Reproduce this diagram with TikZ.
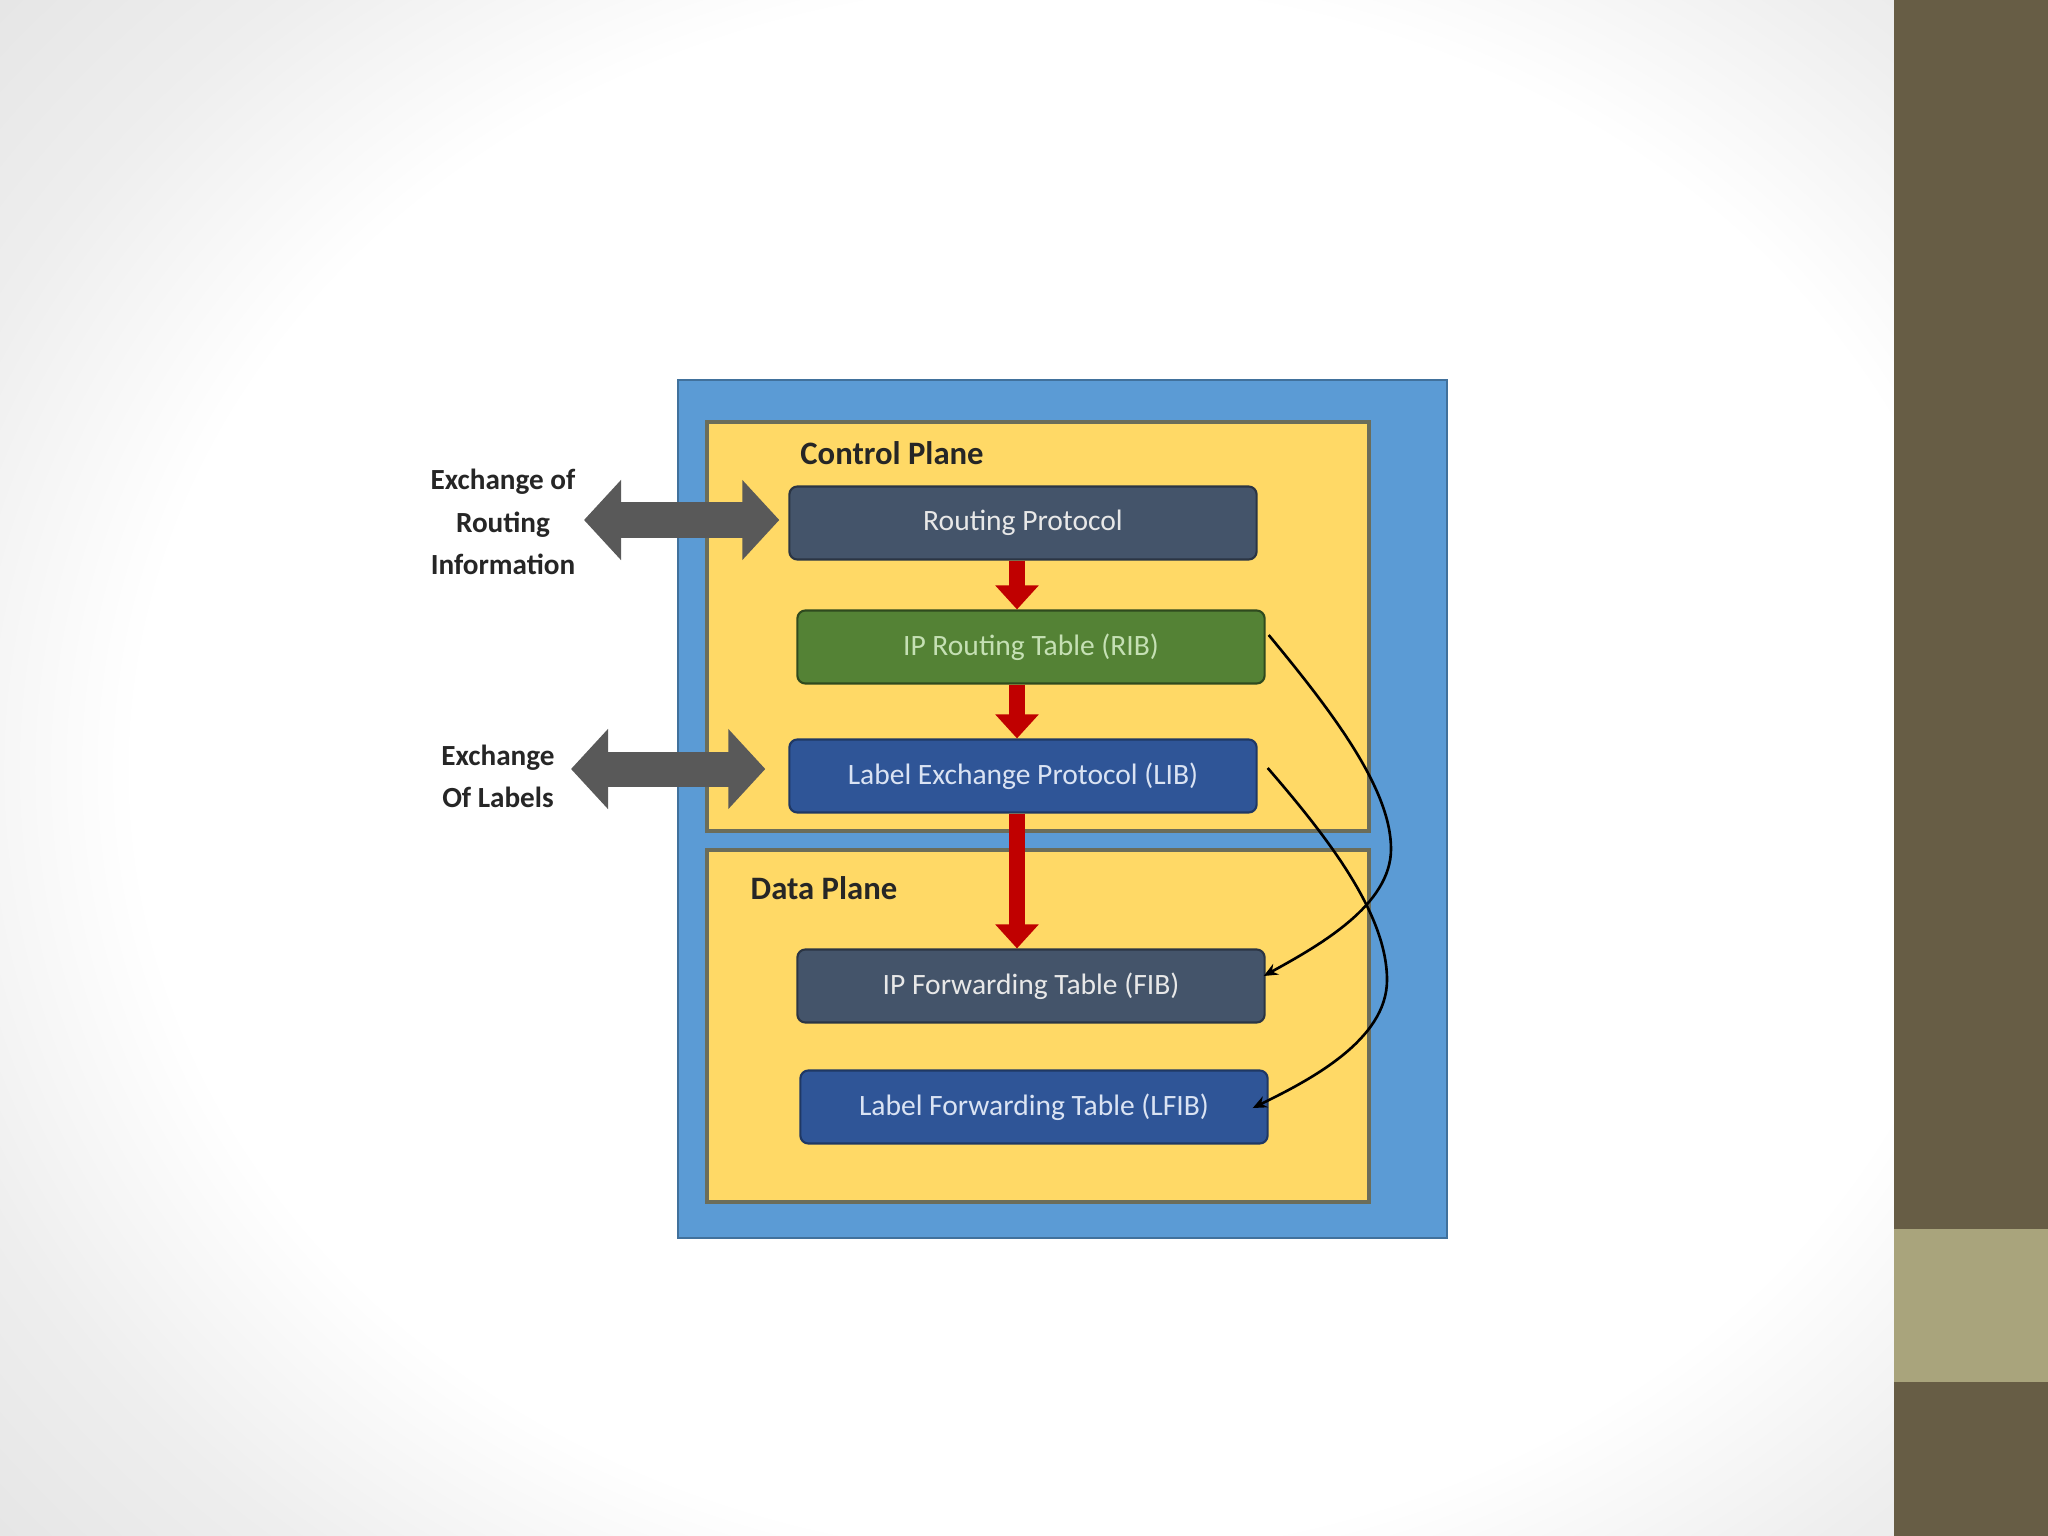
\documentclass[tikz,border=0pt]{standalone}
\usepackage{fontspec}
\setmainfont{Carlito}
\usetikzlibrary{arrows.meta,calc}
\definecolor{bggray}{HTML}{EEEEEE}
\definecolor{bggray2}{HTML}{E2E2E2}
\definecolor{bardark}{HTML}{675D45}
\definecolor{barlight}{HTML}{A9A47C}
\definecolor{outerblue}{HTML}{5B9BD5}
\definecolor{outerblueb}{HTML}{41719C}
\definecolor{panelyel}{HTML}{FFD966}
\definecolor{panelb}{HTML}{6B6D5A}
\definecolor{slate}{HTML}{44546A}
\definecolor{slateb}{HTML}{2B3544}
\definecolor{ribgreen}{HTML}{548235}
\definecolor{ribgreenb}{HTML}{2F4A1E}
\definecolor{ribtext}{HTML}{C5E0B4}
\definecolor{lblue}{HTML}{2F5597}
\definecolor{lblueb}{HTML}{1F3864}
\definecolor{lbluetext}{HTML}{DAE3F3}
\definecolor{boxtext}{HTML}{E8E8E8}
\definecolor{redarr}{HTML}{C00000}
\definecolor{greyarr}{HTML}{595959}
\pgfdeclareradialshading{vign}{\pgfpoint{0bp}{0bp}}{color(0bp)=(white); color(21bp)=(white); color(27bp)=(bggray); color(34bp)=(bggray2); color(50bp)=(bggray2)}
\tikzset{
  tablebox/.style={rounded corners=0.08cm, minimum width=4.67cm, minimum height=0.73cm,
    line width=0.6pt, font=\fontsize{8.4}{10}\selectfont, inner sep=0pt},
  slatebox/.style={tablebox, fill=slate, draw=slateb, text=boxtext},
  greenbox/.style={tablebox, fill=ribgreen, draw=ribgreenb, text=ribtext},
  bluebox/.style={tablebox, fill=lblue, draw=lblueb, text=lbluetext},
  planelabel/.style={font=\fontsize{9.3}{11}\selectfont\bfseries, text=black!85, inner sep=0pt},
  sidelabel/.style={font=\fontsize{8.3}{12}\selectfont\bfseries, text=black!85, align=center, inner sep=0pt},
  redarrow/.style={draw=redarr, line width=0.16cm, -{Triangle[width=0.42cm, length=0.24cm]}},
  greyarrow/.style={draw=greyarr, line width=0.35cm, {Triangle[width=0.78cm, length=0.37cm]}-{Triangle[width=0.78cm, length=0.37cm]}},
  curvearrow/.style={draw=black, line width=0.75pt, -{Stealth[length=0.14cm, width=0.12cm]}}
}
\begin{document}
\begin{tikzpicture}[x=0.01cm, y=-0.01cm]
\useasboundingbox (0,0) rectangle (2048,1536);
% background
\begin{scope}
\clip (0,0) rectangle (1894,1536);
\shade[shading=vign] (-40,-160) rectangle (2160,1700);
\end{scope}
\fill[bardark] (1894,0) rectangle (2048,1536);
\fill[barlight] (1894,1229) rectangle (2048,1382);
% panels
\draw[fill=outerblue, draw=outerblueb, line width=0.7pt] (678,380) rectangle (1447,1238);
\draw[fill=panelyel, draw=panelb, line width=0.9pt] (707,422) rectangle (1369,831);
\draw[fill=panelyel, draw=panelb, line width=0.9pt] (707,850) rectangle (1369,1202);
\node[planelabel] (cplabel) at (892,453) {Control Plane};
\node[planelabel] (dplabel) at (824,888) {Data Plane};
% boxes
\node[slatebox] (rp) at (1023,523) {Routing Protocol};
\node[greenbox] (rib) at (1031,647) {IP Routing Table (RIB)};
\node[bluebox] (lib) at (1023,776) {Label Exchange Protocol (LIB)};
\node[slatebox] (fib) at (1031,986) {IP Forwarding Table (FIB)};
\node[bluebox] (lfib) at (1034,1107) {Label Forwarding Table (LFIB)};
% red arrows
\coordinate (ax) at (1017,0);
\draw[redarrow] (rp.south -| ax) -- (rib.north -| ax);
\draw[redarrow] (rib.south -| ax) -- (lib.north -| ax);
\draw[redarrow] (lib.south -| ax) -- (fib.north -| ax);
% side labels and grey arrows
\node[sidelabel] (exr) at (503,522) {Exchange of\\Routing\\Information};
\node[sidelabel] (exl) at (498,776) {Exchange\\Of Labels};
\coordinate (g1) at (584,520);
\coordinate (g2) at (571,769);
\draw[greyarrow, shorten >=0.09cm] (g1) -- (g1 -| rp.west);
\draw[greyarrow, shorten >=0.23cm] (g2) -- (g2 -| lib.west);
% curved connectors
\draw[curvearrow] ($(rib.east)+(3,-12)$) .. controls (1335,715) and (1391,790) .. (1391,849)
   .. controls (1391,905) and (1320,945) .. ($(fib.east)+(-2,-10)$);
\draw[curvearrow] ($(lib.east)+(10,-8)$) .. controls (1330,840) and (1387,915) .. (1387,980)
   .. controls (1387,1040) and (1310,1080) .. ($(lfib.east)+(-16,1)$);
\end{tikzpicture}
\end{document}
